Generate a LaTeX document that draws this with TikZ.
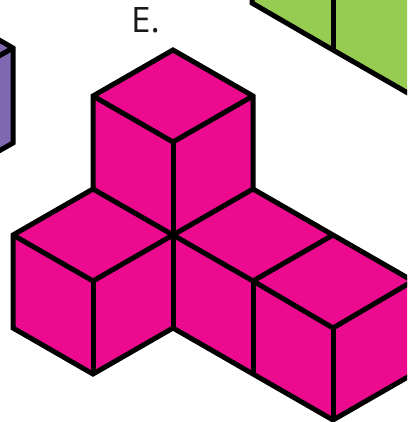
\documentclass[tikz,border=0pt]{standalone}
\usepackage{fontspec}
\setmainfont{Open Sans}
\definecolor{pinkface}{HTML}{EC0A8F}
\definecolor{greenface}{HTML}{97CC53}
\definecolor{purpleface}{HTML}{8069B0}
\tikzset{
  edge/.style={draw=black,line width=5pt,line join=miter,line cap=butt},
  face/.style={edge,fill=pinkface}
}
\begin{document}
\begin{tikzpicture}[x=1pt,y=-1pt]
\useasboundingbox (0,0) rectangle (407,422);
\clip (0,0) rectangle (407,422);
% purple block
\fill[purpleface] (-20,29) -- (13,48) -- (13,143) -- (-20,162) -- cycle;
\draw[edge] (-10,34.7) -- (13,48) -- (13,143) -- (-10,156);
\draw[edge] (13,48) -- (-10,61);
% green block
\fill[greenface] (252,3) -- (333,50) -- (420,100) -- (420,-5) -- (252,-5) -- cycle;
\draw[edge] (252,-8) -- (252,3) -- (333,50) -- (420,100);
\draw[edge] (333,-5) -- (333,50);
% pink solid
\path[face] (173,50) -- (253,96) -- (253,189) -- (333,235) -- (413,281) -- (413,374) -- (333,420) -- (253,374) -- (173,328) -- (93,374) -- (13,328) -- (13,235) -- (93,189) -- (93,96) -- cycle;
\draw[edge] (93,96) -- (173,142) -- (253,96);
\draw[edge] (173,142) -- (173,328);
\draw[edge] (93,189) -- (173,235) -- (253,189);
\draw[edge] (13,235) -- (93,281) -- (173,235) -- (253,281) -- (333,328) -- (413,281);
\draw[edge] (93,281) -- (93,374);
\draw[edge] (253,281) -- (253,374);
\draw[edge] (333,328) -- (333,420);
\draw[edge] (253,281) -- (333,235);
\node[font=\fontsize{35}{35}\selectfont,text=black!90,inner sep=0pt,anchor=base west] (label) at (131,33) {E.};
\end{tikzpicture}
\end{document}
